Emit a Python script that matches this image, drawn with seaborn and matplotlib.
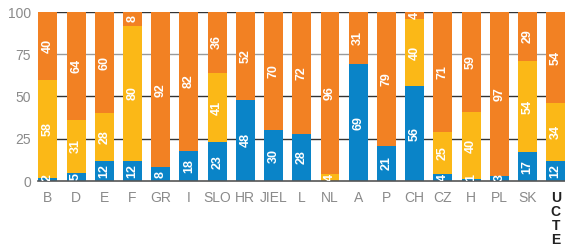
import numpy as np
import pandas as pd
import matplotlib
matplotlib.use("Agg")
import matplotlib.pyplot as plt
import seaborn as sns

# 数据
countries = ['B', 'D', 'E', 'F', 'GR', 'I', 'SLO', 'HR', 'JIEL', 'L', 'NL', 'A',
             'P', 'CH', 'CZ', 'H', 'PL', 'SK', 'UCTE']
blue_vals = [2, 5, 12, 12, 8, 18, 23, 48, 30, 28, 0, 69, 21, 56, 4, 1, 3, 17, 12]
yellow_vals = [58, 31, 28, 80, 0, 0, 41, 0, 0, 0, 4, 0, 0, 40, 25, 40, 0, 54, 34]
orange_vals = [40, 64, 60, 8, 92, 82, 36, 52, 70, 72, 96, 31, 79, 4, 71, 59, 97, 29, 54]
y_ticks = [0, 25, 50, 75, 100]

BLUE = '#0a84c8'
YELLOW = '#fbb817'
ORANGE = '#f28123'

sns.set_style('white')
plt.rcParams['font.family'] = ['Liberation Sans', 'DejaVu Sans']

df = pd.DataFrame({'country': countries, 'blue': blue_vals,
                   'yellow': yellow_vals, 'orange': orange_vals})
df['by'] = df['blue'] + df['yellow']
df['total'] = df['by'] + df['orange']

fig = plt.figure(figsize=(5.65, 2.49), dpi=100)
rect = [38 / 565, 1 - 181 / 249, 1 - 38 / 565, (181 - 12) / 249]

# 网格线放在后面的坐标轴上
ax_bg = fig.add_axes(rect, zorder=0)
for v in y_ticks[1:]:
    ax_bg.axhline(v, color='#9a9a9a' if v == 75 else '#333333', lw=1.0)
ax_bg.set_ylim(0, 100)
ax_bg.axis('off')

ax = fig.add_axes(rect, zorder=1)
ax.patch.set_alpha(0)

# 堆叠柱（累计值从上往下覆盖）
w = 0.67
sns.barplot(data=df, x='country', y='total', color=ORANGE, width=w,
            saturation=1, ax=ax, linewidth=0, edgecolor='none', errorbar=None)
sns.barplot(data=df, x='country', y='by', color=YELLOW, width=w,
            saturation=1, ax=ax, linewidth=0, edgecolor='none', errorbar=None)
sns.barplot(data=df, x='country', y='blue', color=BLUE, width=w,
            saturation=1, ax=ax, linewidth=0, edgecolor='none', errorbar=None)

# 数值标签
for i, row in df.iterrows():
    segs = [(0, row['blue']), (row['blue'], row['yellow']), (row['by'], row['orange'])]
    for base, h in segs:
        if h <= 0:
            continue
        yc = base + h / 2
        if h < 6 and base + h < 99:
            yc = base + max(h / 2, 2.2)
        ax.text(i, yc, str(int(h)), rotation=90, ha='center', va='center',
                color='white', fontsize=9, fontweight='bold', zorder=5,
                clip_on=True)

ax.set_ylim(0, 100)
ax.set_xlim(-0.35, 18.33)
ax.set_yticks(y_ticks)
ax.set_yticklabels([str(t) for t in y_ticks], color='#8a8a8a', fontsize=10)
ax.set_xlabel('')
ax.set_ylabel('')
ax.tick_params(axis='y', length=0, pad=5)
ax.tick_params(axis='x', length=0, pad=7)

labels = [c if c != 'UCTE' else '\n'.join(c) for c in countries]
ax.set_xticks(range(len(countries)))
ax.set_xticklabels(labels, fontsize=10, color='#8a8a8a', va='top')
tl = ax.get_xticklabels()[-1]
tl.set_color('#222222')
tl.set_fontweight('bold')
tl.set_linespacing(1.02)

for s in ['top', 'right', 'left']:
    ax.spines[s].set_visible(False)
ax.spines['bottom'].set_color('#555555')
ax.spines['bottom'].set_linewidth(1.2)

fig.savefig('out.png', dpi=100)
